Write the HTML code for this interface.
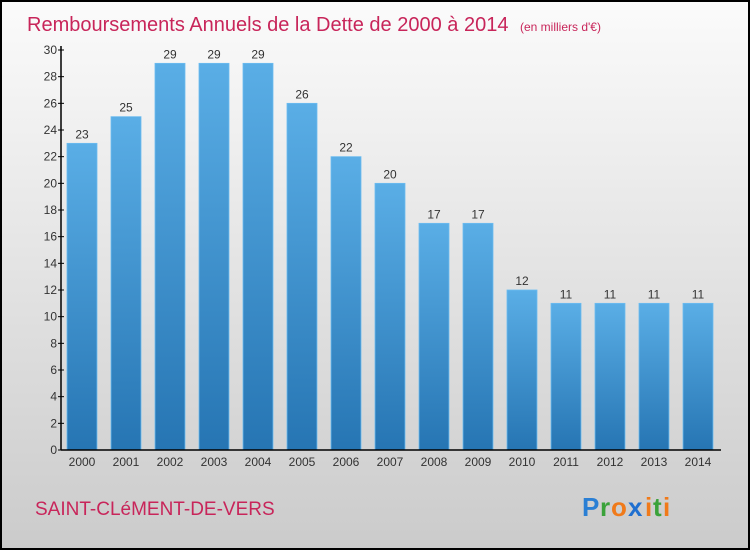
<!DOCTYPE html>
<html><head><meta charset="utf-8"><style>
body{margin:0;width:750px;height:550px;overflow:hidden;font-family:"Liberation Sans",sans-serif}
</style></head><body>
<svg width="750" height="550" xmlns="http://www.w3.org/2000/svg">
<defs>
<linearGradient id="bg" x1="0" y1="0" x2="0" y2="1"><stop offset="0" stop-color="#fbfbfb"/><stop offset="1" stop-color="#cbcbcb"/></linearGradient>
<linearGradient id="bar" x1="0" y1="0" x2="0" y2="1"><stop offset="0" stop-color="#5aaee6"/><stop offset="1" stop-color="#2675b3"/></linearGradient>
</defs>
<rect x="1" y="1" width="748" height="548" fill="url(#bg)" stroke="#000" stroke-width="2"/>
<text x="27" y="31" font-size="20" fill="#c8255a">Remboursements Annuels de la Dette de 2000 à 2014 <tspan font-size="12" dx="6">(en milliers d'€)</tspan></text>
<g id="plot"></g>
<text x="35" y="515" font-size="19" fill="#c8255a">SAINT-CLéMENT-DE-VERS</text>
<g font-size="26" font-weight="bold" font-family="'Liberation Sans',sans-serif">
<text x="582" y="516" fill="#2a7fd4">P</text><text x="600" y="516" fill="#3aa23a">r</text><text x="611" y="516" fill="#f07a1a">o</text><text x="628" y="516" fill="#1f6fd0">x</text><text x="645" y="516" fill="#f07a1a">i</text><text x="653" y="516" fill="#3aa23a">t</text><text x="663" y="516" fill="#f07a1a">i</text>
</g>
</svg>
<script>
const categories=["2000","2001","2002","2003","2004","2005","2006","2007","2008","2009","2010","2011","2012","2013","2014"];
const values=[23,25,29,29,29,26,22,20,17,17,12,11,11,11,11];
const yTicks=[0,2,4,6,8,10,12,14,16,18,20,22,24,26,28,30];
const NS="http://www.w3.org/2000/svg";
const g=document.getElementById('plot');
const x0=61,x1=721,y0=450,yTop=50,yMax=30;
const y=v=>y0-(v/yMax)*(y0-yTop);
const step=44;
const xc=i=>82+i*step;
function mk(t,a){const e=document.createElementNS(NS,t);for(const k in a)e.setAttribute(k,a[k]);g.appendChild(e);return e;}
values.forEach((v,i)=>{
 const r=mk('rect',{x:xc(i)-15,y:y(v),width:30,height:y0-y(v),fill:'url(#bar)',stroke:'#6cbcf0','stroke-width':0.8});
 
 
 const t=mk('text',{x:xc(i),y:y(v)-5,'text-anchor':'middle','font-size':12,fill:'#333'});
 t.textContent=v;
 
 
 const c=mk('text',{x:xc(i),y:y0+16,'text-anchor':'middle','font-size':12,fill:'#333'});
 c.textContent=categories[i];
 
 
});
yTicks.forEach(v=>{
 const l=mk('line',{x1:x0-3,x2:x0+3,y1:y(v),y2:y(v),stroke:'#000'});
 
 
 const t=mk('text',{x:x0-4,y:y(v)+4,'text-anchor':'end','font-size':12,fill:'#333'});
 t.textContent=v;
 
 
});
const ya=mk('line',{x1:x0,x2:x0,y1:yTop-4,y2:y0,stroke:'#000','stroke-width':1.5});


const xa=mk('line',{x1:x0,x2:x1,y1:y0,y2:y0,stroke:'#000','stroke-width':1.5});


</script>
</body></html>
